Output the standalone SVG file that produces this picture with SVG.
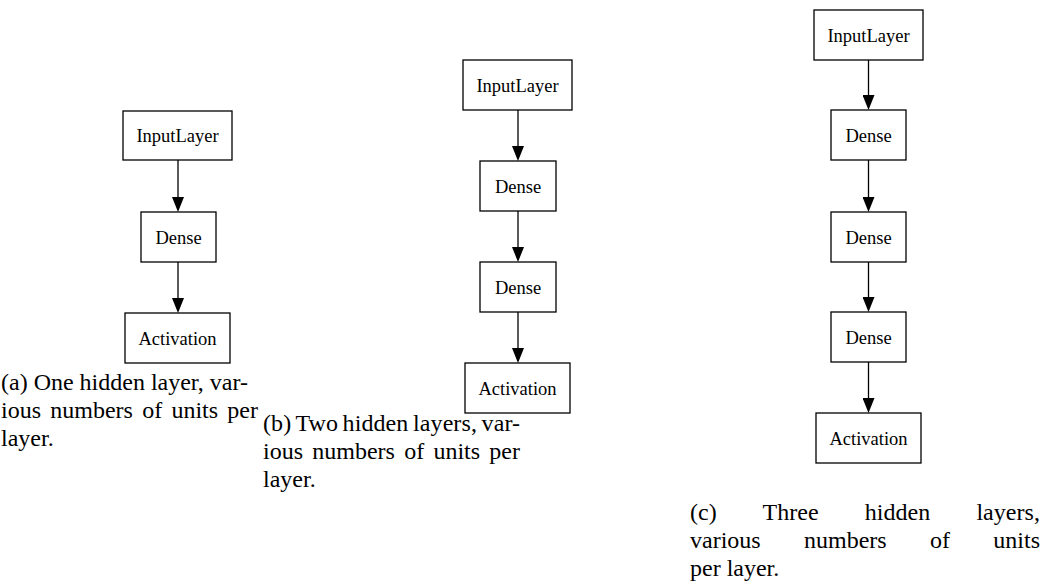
<svg xmlns="http://www.w3.org/2000/svg" width="1042" height="588" viewBox="0 0 1042 588">
<style>
.box{fill:#fff;stroke:#000;stroke-width:1.3}
.lbl{font-family:'Liberation Serif','Tinos','Times New Roman','Nimbus Roman','DejaVu Serif','Noto Serif',serif;font-size:18.5px;fill:#000;text-anchor:middle}
.edge{stroke:#000;stroke-width:1.3;fill:none;marker-end:url(#ah)}
.cap{font-family:'Liberation Serif','Tinos','Times New Roman','Nimbus Roman','DejaVu Serif','Noto Serif',serif;font-size:24px;fill:#000}
</style>
<defs>
<marker id="ah" viewBox="0 0 15 12" refX="0" refY="6" markerWidth="15" markerHeight="12" markerUnits="userSpaceOnUse" orient="auto">
<path d="M0,0 L15,6 L0,12 z" fill="#000"/>
</marker>
</defs>
<rect width="1042" height="588" fill="#fff"/>
<g id="connectors">
<line class="edge" x1="178" y1="160" x2="178" y2="197"/>
<line class="edge" x1="178" y1="262" x2="178" y2="298"/>
<line class="edge" x1="518" y1="110" x2="518" y2="146"/>
<line class="edge" x1="518" y1="211" x2="518" y2="247"/>
<line class="edge" x1="518" y1="312" x2="518" y2="348"/>
<line class="edge" x1="868.5" y1="60" x2="868.5" y2="95"/>
<line class="edge" x1="868.5" y1="160" x2="868.5" y2="197"/>
<line class="edge" x1="868.5" y1="262" x2="868.5" y2="297"/>
<line class="edge" x1="868.5" y1="362" x2="868.5" y2="398"/>
</g>
<g id="a-input"><rect class="box" x="123" y="111" width="109" height="49"/><text class="lbl" x="177.5" y="142">InputLayer</text></g>
<g id="a-dense"><rect class="box" x="141" y="212" width="75" height="50"/><text class="lbl" x="178.5" y="243.5">Dense</text></g>
<g id="a-act"><rect class="box" x="125" y="313" width="105" height="50"/><text class="lbl" x="177.5" y="344.5">Activation</text></g>
<g id="b-input"><rect class="box" x="463" y="60" width="109" height="50"/><text class="lbl" x="517.5" y="91.5">InputLayer</text></g>
<g id="b-dense1"><rect class="box" x="480" y="161" width="76" height="50"/><text class="lbl" x="518" y="192.5">Dense</text></g>
<g id="b-dense2"><rect class="box" x="480" y="262" width="76" height="50"/><text class="lbl" x="518" y="293.5">Dense</text></g>
<g id="b-act"><rect class="box" x="465" y="363" width="105" height="50"/><text class="lbl" x="517.5" y="394.5">Activation</text></g>
<g id="c-input"><rect class="box" x="814" y="10" width="109" height="50"/><text class="lbl" x="868.5" y="41.5">InputLayer</text></g>
<g id="c-dense1"><rect class="box" x="831" y="110" width="75" height="50"/><text class="lbl" x="868.5" y="141.5">Dense</text></g>
<g id="c-dense2"><rect class="box" x="831" y="212" width="75" height="50"/><text class="lbl" x="868.5" y="243.5">Dense</text></g>
<g id="c-dense3"><rect class="box" x="831" y="312" width="75" height="50"/><text class="lbl" x="868.5" y="343.5">Dense</text></g>
<g id="c-act"><rect class="box" x="816" y="413" width="105" height="50"/><text class="lbl" x="868.5" y="444.5">Activation</text></g>
<g id="caption-a">
<text class="cap" x="1" y="390" textLength="247" lengthAdjust="spacing">(a) One hidden layer, var-</text>
<text class="cap" x="1" y="418" word-spacing="3.2" textLength="257" lengthAdjust="spacing">ious numbers of units per</text>
<text class="cap" x="1" y="446">layer.</text>
</g>
<g id="caption-b">
<text class="cap" x="263" y="431" word-spacing="-1.5" textLength="257" lengthAdjust="spacing">(b) Two hidden layers, var-</text>
<text class="cap" x="263" y="459" word-spacing="3.2" textLength="257" lengthAdjust="spacing">ious numbers of units per</text>
<text class="cap" x="263" y="487">layer.</text>
</g>
<g id="caption-c">
<text class="cap" x="690" y="520" word-spacing="40" textLength="350" lengthAdjust="spacing">(c) Three hidden layers,</text>
<text class="cap" x="690" y="548" word-spacing="37.3" textLength="350" lengthAdjust="spacing">various numbers of units</text>
<text class="cap" x="690" y="576">per layer.</text>
</g>
</svg>
